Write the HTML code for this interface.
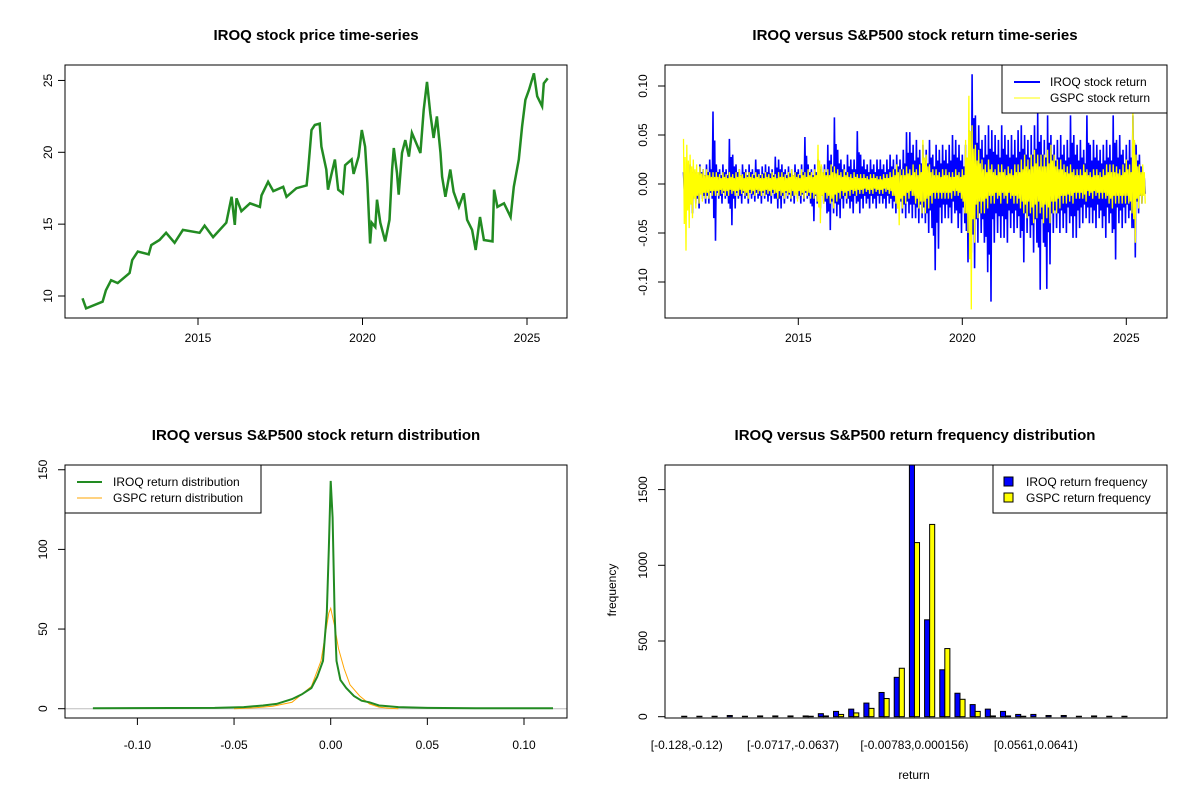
<!DOCTYPE html>
<html><head><meta charset="utf-8"><style>
body{margin:0;background:#fff}
svg{display:block;font-family:"Liberation Sans",Arial,sans-serif}
</style></head><body>
<svg id="c" width="1200" height="800" viewBox="0 0 1200 800">
<rect width="1200" height="800" fill="#fff"/>
<g font-weight="bold" font-size="15" text-anchor="middle">
<text x="316" y="40">IROQ stock price time-series</text>
<text x="915" y="40">IROQ versus S&amp;P500 stock return time-series</text>
<text x="316" y="440">IROQ versus S&amp;P500 stock return distribution</text>
<text x="915" y="440">IROQ versus S&amp;P500 return frequency distribution</text>
</g>
<g font-size="12">
<text x="914" y="779" text-anchor="middle">return</text>
<text transform="translate(616,590) rotate(-90)" text-anchor="middle">frequency</text>
</g>
<g id="p1"></g>
<g id="p2"></g>
<g id="p3"></g>
<g id="p4"></g>
</svg>
<script>
// ---- price data ----
const priceYears=[2011.49,2011.6,2012.1,2012.2,2012.36,2012.56,2012.92,2013.0,2013.17,2013.5,2013.58,2013.83,2014.03,2014.29,2014.54,2015.05,2015.2,2015.46,2015.86,2016.02,2016.12,2016.17,2016.32,2016.58,2016.88,2016.93,2017.13,2017.29,2017.59,2017.69,2017.99,2018.3,2018.35,2018.45,2018.55,2018.7,2018.75,2018.9,2018.95,2019.05,2019.16,2019.26,2019.4,2019.47,2019.67,2019.73,2019.88,2019.98,2020.08,2020.15,2020.23,2020.28,2020.39,2020.44,2020.54,2020.69,2020.82,2020.9,2020.95,2021.05,2021.1,2021.2,2021.3,2021.41,2021.5,2021.76,2021.86,2021.96,2022.06,2022.16,2022.26,2022.37,2022.42,2022.52,2022.67,2022.77,2022.93,2023.08,2023.18,2023.33,2023.44,2023.57,2023.69,2023.95,2024.0,2024.1,2024.3,2024.5,2024.6,2024.75,2024.85,2024.95,2025.06,2025.21,2025.31,2025.46,2025.51,2025.63];
const priceValues=[9.84,9.14,9.6,10.4,11.1,10.9,11.6,12.5,13.1,12.9,13.55,13.9,14.4,13.7,14.6,14.4,14.9,14.1,15.1,16.9,14.95,16.8,15.9,16.45,16.2,17.0,17.95,17.3,17.6,16.9,17.5,17.7,18.8,21.55,21.9,22.0,20.4,18.8,17.4,18.4,19.5,17.4,17.15,19.1,19.5,18.5,19.7,21.55,20.4,17.85,13.65,15.1,14.8,16.7,15.1,13.8,15.3,18.8,20.3,18.55,17.05,19.95,20.85,19.7,21.35,19.95,22.95,24.9,22.7,21.0,22.5,19.95,18.3,16.9,18.8,17.25,16.2,17.15,15.3,14.6,13.2,15.5,13.9,13.8,17.4,16.2,16.45,15.5,17.6,19.5,21.8,23.65,24.35,25.5,23.9,23.2,24.8,25.15];
const priceTicks=[10,15,20,25];
const yearTicks=[2015,2020,2025];
// ---- return data (per 0.1 year envelope from 2011.5) ----
const returnStart=2011.5, returnStep=0.1;
const iroqHigh=[.012,.015,.02,.015,.012,.02,.015,.02,.025,.074,.02,.015,.02,.015,.046,.03,.02,.015,.02,.015,.02,.015,.025,.015,.018,.02,.018,.015,.028,.025,.02,.015,.018,.015,.02,.015,.02,.048,.02,.015,.02,.025,.018,.02,.04,.03,.068,.035,.025,.02,.03,.025,.025,.054,.03,.025,.02,.025,.02,.025,.025,.02,.025,.03,.025,.03,.025,.035,.053,.053,.04,.045,.035,.04,.035,.045,.03,.04,.035,.04,.035,.04,.05,.045,.04,.03,.04,.055,.112,.07,.06,.045,.05,.06,.055,.05,.045,.06,.05,.045,.05,.045,.055,.06,.05,.045,.05,.06,.072,.05,.045,.07,.05,.04,.045,.05,.04,.045,.07,.05,.04,.045,.035,.07,.04,.045,.04,.035,.04,.045,.04,.07,.045,.05,.035,.04,.045,.07,.04,.03,.01];
const iroqLow=[-.01,-.025,-.03,-.02,-.025,-.015,-.02,-.02,-.015,-.058,-.015,-.02,-.015,-.02,-.042,-.025,-.015,-.02,-.015,-.02,-.015,-.018,-.015,-.02,-.015,-.018,-.02,-.015,-.025,-.025,-.02,-.015,-.018,-.02,-.015,-.02,-.018,-.015,-.02,-.038,-.02,-.025,-.02,-.03,-.047,-.03,-.033,-.035,-.025,-.02,-.025,-.03,-.02,-.03,-.025,-.02,-.025,-.02,-.025,-.02,-.02,-.025,-.02,-.025,-.03,-.025,-.03,-.035,-.03,-.035,-.035,-.04,-.035,-.04,-.05,-.045,-.088,-.066,-.04,-.035,-.035,-.04,-.03,-.045,-.05,-.04,-.08,-.07,-.086,-.06,-.05,-.06,-.09,-.12,-.06,-.05,-.055,-.055,-.06,-.045,-.05,-.045,-.055,-.08,-.05,-.055,-.07,-.06,-.108,-.06,-.107,-.082,-.05,-.045,-.05,-.045,-.05,-.04,-.055,-.055,-.045,-.04,-.035,-.04,-.04,-.045,-.035,-.045,-.055,-.04,-.05,-.077,-.04,-.045,-.04,-.035,-.045,-.075,-.03,-.02,-.01];
const gspcHigh=[.046,.04,.03,.025,.02,.018,.015,.015,.012,.012,.012,.01,.012,.01,.012,.01,.012,.015,.01,.012,.012,.01,.012,.01,.01,.012,.01,.012,.01,.012,.012,.01,.012,.015,.012,.01,.015,.012,.015,.012,.015,.04,.02,.015,.015,.02,.018,.015,.012,.015,.012,.01,.012,.01,.01,.01,.008,.01,.01,.008,.008,.01,.01,.012,.015,.02,.015,.015,.018,.015,.02,.015,.02,.045,.03,.02,.015,.015,.012,.015,.015,.012,.012,.015,.012,.015,.045,.09,.06,.04,.035,.025,.02,.025,.02,.015,.02,.02,.015,.018,.015,.02,.02,.025,.03,.025,.03,.035,.03,.03,.03,.035,.04,.03,.025,.025,.02,.018,.02,.015,.015,.015,.02,.015,.012,.015,.015,.012,.015,.02,.02,.02,.018,.015,.02,.025,.02,.075,.03,.02,.02];
const gspcLow=[-.068,-.045,-.035,-.025,-.02,-.018,-.015,-.015,-.012,-.012,-.012,-.01,-.012,-.012,-.01,-.012,-.012,-.01,-.012,-.015,-.01,-.012,-.01,-.012,-.012,-.01,-.012,-.01,-.015,-.012,-.015,-.012,-.015,-.012,-.018,-.012,-.015,-.012,-.015,-.015,-.018,-.04,-.02,-.015,-.02,-.025,-.018,-.015,-.012,-.015,-.012,-.01,-.012,-.01,-.01,-.008,-.01,-.01,-.008,-.01,-.01,-.008,-.01,-.012,-.02,-.042,-.025,-.02,-.015,-.012,-.02,-.025,-.03,-.03,-.025,-.02,-.015,-.015,-.015,-.015,-.015,-.015,-.012,-.012,-.015,-.03,-.05,-.128,-.06,-.035,-.03,-.03,-.025,-.02,-.02,-.015,-.02,-.015,-.02,-.015,-.02,-.02,-.025,-.03,-.035,-.03,-.04,-.035,-.03,-.04,-.035,-.04,-.03,-.03,-.025,-.02,-.02,-.018,-.02,-.015,-.015,-.015,-.018,-.012,-.015,-.012,-.015,-.015,-.015,-.02,-.025,-.02,-.02,-.02,-.02,-.02,-.03,-.06,-.025,-.02,-.02];
const returnTicks=[-0.10,-0.05,0.00,0.05,0.10];
// ---- density data ----
const iroqDensX=[-0.123,-0.06,-0.045,-0.035,-0.028,-0.02,-0.015,-0.01,-0.007,-0.004,-0.002,-0.001,0,0.001,0.002,0.003,0.005,0.008,0.012,0.016,0.02,0.025,0.035,0.05,0.075,0.115];
const iroqDensY=[0.3,0.5,1,2,3,6,9,13,20,30,60,100,143,120,60,30,18,13,8,5,4,2,1,0.5,0.3,0.3];
const gspcDensX=[-0.05,-0.04,-0.03,-0.02,-0.01,-0.005,-0.003,-0.001,0,0.002,0.004,0.007,0.01,0.015,0.02,0.025,0.03,0.035];
const gspcDensY=[0,0.5,1.5,4,14,30,45,60,63,52,38,25,15,8,3,1,0.3,0];
const densXTicks=[-0.10,-0.05,0.00,0.05,0.10];
const densYTicks=[0,50,100,150];
// ---- histogram data ----
const binLabels=["[-0.128,-0.12)","[-0.0717,-0.0637)","[-0.00783,0.000156)","[0.0561,0.0641)"];
const binLabelIdx=[0,7,15,23];
const iroqFreq=[3,3,3,8,3,5,5,5,5,20,35,50,90,160,260,1670,640,310,155,80,50,35,15,15,8,8,3,5,3,3];
const gspcFreq=[0,0,0,0,0,0,0,0,3,5,15,25,55,120,320,1150,1270,450,115,35,5,5,3,0,0,0,0,0,0,0];
const freqTicks=[0,500,1000,1500];

const NS="http://www.w3.org/2000/svg";
function mk(parent,tag,attrs){const e=document.createElementNS(NS,tag);for(const k in attrs)e.setAttribute(k,attrs[k]);parent.appendChild(e);return e;}
function txt(parent,x,y,s,anchor,rot){const t=mk(parent,"text",{x:x,y:y,"font-size":12,"text-anchor":anchor||"middle"});if(rot)t.setAttribute("transform","rotate(-90 "+x+" "+y+")");t.textContent=s;return t;}
function box(p,x0,y0,x1,y1){const r=mk(p,"rect",{x:x0,y:y0,width:x1-x0,height:y1-y0,fill:"none",stroke:"#000","stroke-width":1});}

// ---- panel 1: price ----
(function(){
const p=document.getElementById("p1");
const X=v=>198+(v-2015)*32.9, Y=v=>296-(v-10)*14.37;
box(p,65,65,567,318);
let d=priceYears.map((t,i)=>(i?"L":"M")+X(t).toFixed(1)+","+Y(priceValues[i]).toFixed(1)).join("");
const l=mk(p,"path",{d:d,fill:"none",stroke:"#228B22","stroke-width":2.5,"stroke-linejoin":"miter"});


yearTicks.forEach(t=>{mk(p,"line",{x1:X(t),x2:X(t),y1:318,y2:325,stroke:"#000"});const e=txt(p,X(t),342,String(t));});
priceTicks.forEach(t=>{mk(p,"line",{x1:58,x2:65,y1:Y(t),y2:Y(t),stroke:"#000"});const e=txt(p,52,Y(t),String(t),"middle",true);});
})();

// ---- panel 2: returns ----
(function(){
const p=document.getElementById("p2");
const X=v=>798.3+(v-2015)*32.8, Y=v=>184-v*980;
function env(hi,lo,col,w,name){
 let d="";
 hi.forEach((h,i)=>{const t=returnStart+i*returnStep;const s=returnStep/4;
  d+=(i?"L":"M")+X(t).toFixed(1)+","+Y(h).toFixed(1)
   +"L"+X(t+s).toFixed(1)+","+Y(lo[i]*0.6).toFixed(1)
   +"L"+X(t+2*s).toFixed(1)+","+Y(h*0.6).toFixed(1)
   +"L"+X(t+3*s).toFixed(1)+","+Y(lo[i]).toFixed(1);});
 const e=mk(p,"path",{d:d,fill:"none",stroke:col,"stroke-width":w});
 
 
}
env(iroqHigh,iroqLow,"#0000FF",1.6,"iroq-return-line");
env(gspcHigh,gspcLow,"#FFFF00",1.3,"gspc-return-line");
box(p,665,65,1167,318);
yearTicks.forEach(t=>{mk(p,"line",{x1:X(t),x2:X(t),y1:318,y2:325,stroke:"#000"});const e=txt(p,X(t),342,String(t));});
returnTicks.forEach(t=>{mk(p,"line",{x1:658,x2:665,y1:Y(t),y2:Y(t),stroke:"#000"});const e=txt(p,647,Y(t),t.toFixed(2),"middle",true);});
const lg=mk(p,"g",{});


mk(lg,"rect",{x:1002,y:65,width:165,height:48,fill:"#fff",stroke:"#000"});
mk(lg,"line",{x1:1014,x2:1040,y1:82,y2:82,stroke:"#0000FF","stroke-width":2});
mk(lg,"line",{x1:1014,x2:1040,y1:98,y2:98,stroke:"#FFFF00","stroke-width":1});
txt(lg,1050,86,"IROQ stock return","start");
txt(lg,1050,102,"GSPC stock return","start");
})();

// ---- panel 3: density ----
(function(){
const p=document.getElementById("p3");
const X=v=>330.7+v*1933, Y=v=>708.7-v*1.593;
mk(p,"line",{x1:65,x2:567,y1:Y(0),y2:Y(0),stroke:"#bebebe"});
let d=gspcDensX.map((x,i)=>(i?"L":"M")+X(x).toFixed(1)+","+Y(gspcDensY[i]).toFixed(1)).join("");
const o=mk(p,"path",{d:d,fill:"none",stroke:"#FFA500","stroke-width":1});


d=iroqDensX.map((x,i)=>(i?"L":"M")+X(x).toFixed(1)+","+Y(iroqDensY[i]).toFixed(1)).join("");
const g=mk(p,"path",{d:d,fill:"none",stroke:"#228B22","stroke-width":2});


box(p,65,465,567,718);
densXTicks.forEach(t=>{mk(p,"line",{x1:X(t),x2:X(t),y1:718,y2:725,stroke:"#000"});const e=txt(p,X(t),749,t.toFixed(2));});
densYTicks.forEach(t=>{mk(p,"line",{x1:58,x2:65,y1:Y(t),y2:Y(t),stroke:"#000"});const e=txt(p,47,Y(t),String(t),"middle",true);});
const lg=mk(p,"g",{});


mk(lg,"rect",{x:65,y:465,width:196,height:48,fill:"#fff",stroke:"#000"});
mk(lg,"line",{x1:77,x2:102,y1:482,y2:482,stroke:"#228B22","stroke-width":2});
mk(lg,"line",{x1:77,x2:102,y1:498,y2:498,stroke:"#FFA500","stroke-width":1});
txt(lg,113,486,"IROQ return distribution","start");
txt(lg,113,502,"GSPC return distribution","start");
})();

// ---- panel 4: histogram ----
(function(){
const p=document.getElementById("p4");
const bw=5.06, gap=15.18, x0=681.7;
const X=i=>x0+i*gap, Y=v=>716.7-v*0.1514;
const clip=mk(p,"clipPath",{id:"hc"});mk(clip,"rect",{x:665,y:465,width:502,height:253});
const bars=mk(p,"g",{"clip-path":"url(#hc)"});
iroqFreq.forEach((v,i)=>{
 const r=mk(bars,"rect",{x:X(i),y:Y(v),width:bw,height:Y(0)-Y(v),fill:"#0000FF",stroke:"#000","stroke-width":1});
 
 
});
gspcFreq.forEach((v,i)=>{
 const r=mk(bars,"rect",{x:X(i)+bw,y:Y(v),width:bw,height:Y(0)-Y(v),fill:"#FFFF00",stroke:"#000","stroke-width":1});
 
 
});
box(p,665,465,1167,718);
freqTicks.forEach(t=>{mk(p,"line",{x1:658,x2:665,y1:Y(t),y2:Y(t),stroke:"#000"});const e=txt(p,647,Y(t),String(t),"middle",true);});
binLabels.forEach((s,k)=>{const e=txt(p,X(binLabelIdx[k])+bw,749,s);});
const lg=mk(p,"g",{});


mk(lg,"rect",{x:993,y:465,width:174,height:48,fill:"#fff",stroke:"#000"});
mk(lg,"rect",{x:1004,y:477,width:9,height:9,fill:"#0000FF",stroke:"#000"});
mk(lg,"rect",{x:1004,y:493,width:9,height:9,fill:"#FFFF00",stroke:"#000"});
txt(lg,1026,486,"IROQ return frequency","start");
txt(lg,1026,502,"GSPC return frequency","start");
})();
</script>
</body></html>
